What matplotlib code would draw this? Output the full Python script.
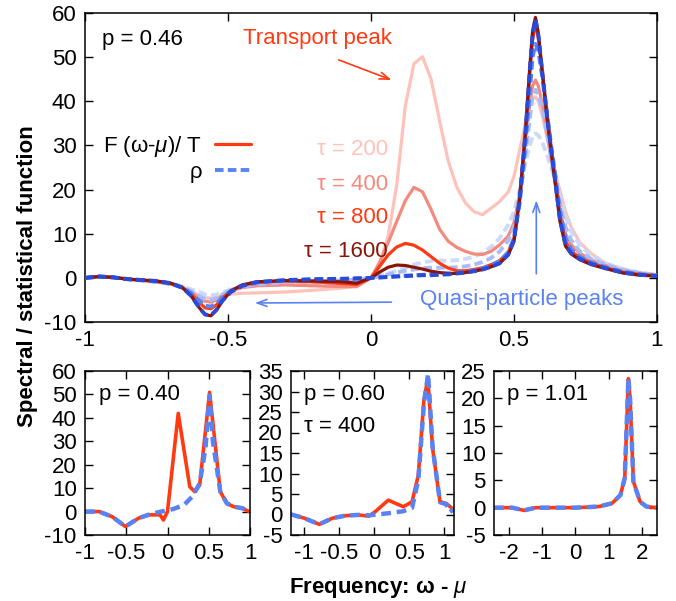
import matplotlib
matplotlib.use("Agg")
import matplotlib.pyplot as plt
from matplotlib.ticker import FuncFormatter

plt.rcParams['font.family'] = ['Liberation Sans', 'DejaVu Sans']
plt.rcParams['axes.unicode_minus'] = False
plt.rcParams['mathtext.fontset'] = 'custom'
plt.rcParams['mathtext.rm'] = 'Liberation Sans'
plt.rcParams['mathtext.it'] = 'Liberation Sans:italic'
plt.rcParams['mathtext.bf'] = 'Liberation Sans:bold'

# ---------------- data: main panel (p = 0.46) ----------------
X_MAIN = [-1.0, -0.95, -0.9, -0.85, -0.8, -0.75, -0.7, -0.66, -0.63, -0.6, -0.58, -0.56,
          -0.54, -0.52, -0.49, -0.45, -0.4, -0.3, -0.2, -0.1, -0.05, 0.0,
          0.03, 0.06, 0.09, 0.12, 0.15, 0.18, 0.21, 0.24, 0.27, 0.30,
          0.33, 0.36, 0.39, 0.42, 0.45, 0.48, 0.50, 0.52, 0.54,
          0.555, 0.565, 0.575, 0.585, 0.60, 0.615, 0.63, 0.645, 0.66,
          0.68, 0.70, 0.73, 0.77, 0.82, 0.88, 0.94, 1.0]

F_200 = [0, 0.3, 0.1, -0.3, -0.6, -0.9, -1.3, -2.0, -3.0, -4.0, -4.5, -4.6, -4.4, -4.0, -3.7, -3.5,
         -3.4, -3.2, -2.8, -2.3, -1.8, 0.0,
         3.0, 9.5, 21, 39, 48.5, 50.1, 45, 35.5, 26.5, 20.5, 17, 15, 14.3, 15.8, 17.3, 19.5, 23, 29, 35,
         39, 40.8, 41, 40, 36.5, 32, 27.5, 23.5, 20, 15, 11.5, 8, 5.5, 3.3, 2.0, 1.2, 0.7]
F_400 = [0, 0.3, 0.1, -0.3, -0.6, -0.9, -1.4, -2.2, -3.2, -4.6, -5.3, -5.5, -5.0, -4.0, -3.0, -2.2,
         -1.8, -1.6, -1.8, -2.0, -2.0, 0.0,
         3.5, 8.0, 12.8, 17.5, 20.5, 19.5, 15.5, 11.0, 8.3, 6.9, 6.0, 5.4, 5.3, 6.0, 7.5, 9.5, 12.5, 19, 31,
         39.5, 43.5, 44.8, 43.5, 39, 33, 27, 21, 15.5, 10, 7.5, 5.6, 4.0, 2.8, 1.6, 1.0, 0.6]
F_800 = [0, 0.3, 0.1, -0.3, -0.5, -0.8, -1.3, -2.2, -3.6, -5.6, -6.8, -7.0, -6.1, -4.6, -2.9, -1.7,
         -1.0, -0.7, -0.9, -1.3, -1.5, 0.0,
         2.6, 5.2, 7.0, 7.8, 7.4, 6.3, 4.8, 3.3, 2.2, 1.6, 1.6, 1.9, 2.3, 3.0, 3.9, 5.8, 9.0, 18, 33,
         46, 54, 57.5, 54.5, 46, 37.5, 29.5, 22, 14.5, 8.3, 6.0, 4.6, 3.4, 2.3, 1.3, 0.8, 0.5]
F_1600 = [0, 0.3, 0.1, -0.3, -0.5, -0.7, -1.2, -2.2, -4.0, -6.8, -8.3, -8.6, -7.3, -5.3, -3.0, -1.6,
          -0.9, -0.6, -0.7, -0.9, -1.2, 0.0,
          1.3, 2.4, 2.9, 2.8, 2.4, 2.0, 1.5, 1.2, 1.0, 1.0, 1.2, 1.5, 1.9, 2.5, 3.3, 5.2, 8.3, 18, 33,
          47.5, 56, 59, 55.5, 46, 36.5, 28.5, 21, 13, 7.2, 5.4, 4.1, 3.0, 2.1, 1.1, 0.6, 0.4]
RHO_200 = [0, 0.3, 0.1, -0.3, -0.6, -0.9, -1.3, -1.9, -2.6, -3.2, -3.8, -4.0, -3.8, -3.3, -2.6, -2.0,
           -1.7, -1.5, -1.4, -1.2, -0.8, 0.0,
           0.5, 1.0, 1.6, 2.3, 3.0, 3.5, 3.8, 3.9, 3.9, 4.0, 4.3, 4.8, 5.6, 7.0, 9.0, 12, 15, 20, 26,
           30, 32, 32.7, 32.3, 30.5, 28, 25, 22, 18.5, 14, 10.5, 7.5, 5.0, 3.3, 2.0, 1.2, 0.7]
RHO_400 = [0, 0.3, 0.1, -0.3, -0.6, -0.9, -1.4, -2.2, -3.0, -4.2, -4.8, -5.0, -4.6, -3.8, -2.8, -2.0,
           -1.5, -1.0, -0.8, -0.6, -0.4, 0.0,
           0.4, 0.8, 1.2, 1.6, 1.9, 2.2, 2.3, 2.3, 2.3, 2.4, 2.6, 3.0, 3.6, 4.5, 6.0, 8.5, 11.5, 18, 28,
           36, 41, 42.6, 41.5, 38, 33, 27.5, 22, 17, 11.5, 8.5, 6, 4.3, 3.0, 1.8, 1.1, 0.6]
RHO_800 = [0, 0.3, 0.1, -0.3, -0.5, -0.8, -1.3, -2.2, -3.4, -5.2, -6.3, -6.5, -5.8, -4.5, -2.9, -1.7,
           -1.0, -0.6, -0.4, -0.3, -0.2, 0.0,
           0.1, 0.2, 0.4, 0.5, 0.6, 0.7, 0.8, 0.9, 1.0, 1.1, 1.3, 1.6, 2.1, 2.8, 3.8, 5.8, 9.0, 17, 30,
           42, 50, 53, 51.5, 45, 37.5, 30, 23, 15.5, 9.0, 6.5, 4.8, 3.5, 2.4, 1.4, 0.8, 0.5]
RHO_1600 = [0, 0.3, 0.1, -0.3, -0.5, -0.7, -1.2, -2.2, -4.0, -6.8, -8.3, -8.5, -7.2, -5.2, -3.2, -1.8,
            -1.0, -0.5, -0.3, -0.2, -0.1, 0.0,
            0.1, 0.2, 0.3, 0.4, 0.5, 0.6, 0.6, 0.7, 0.8, 1.0, 1.2, 1.5, 1.9, 2.5, 3.3, 5.3, 8.5, 18, 33,
            47, 55, 58.5, 55, 46, 37, 29, 21.5, 13.5, 7.5, 5.6, 4.3, 3.2, 2.2, 1.2, 0.7, 0.4]

TAUS = [200, 400, 800, 1600]
TAU_LABEL_Y = [29.1, 21.2, 13.6, 6.0]

# ---------------- data: small panels ----------------
P1_X = [-1.0, -0.83, -0.67, -0.51, -0.35, -0.22, -0.09, -0.05, 0.0, 0.13, 0.27, 0.33, 0.39, 0.51,
        0.64, 0.72, 0.80, 0.91, 0.97, 1.0]
P1_F = [0, 0, -2.2, -6.4, -2.8, -1.4, -1.4, -3.6, 0, 41.9, 10.6, 8.5, 11.3, 50.9, 8.5, 3.5, 2.1, 1.4,
        0.3, 0]
P1_RHO_X = [-1.0, -0.83, -0.67, -0.51, -0.35, -0.2, -0.05, 0.07, 0.2, 0.3, 0.39, 0.46, 0.51, 0.55,
            0.64, 0.72, 0.80, 0.91, 0.97, 1.0]
P1_RHO = [0, 0, -2.2, -6.4, -2.8, -1.0, 0.2, 1.1, 2.8, 6.4, 12, 27, 49.5, 30, 8.5, 3.5, 2.1, 1.4, 0.3, 0]

P2_X = [-1.185, -1.0, -0.785, -0.6, -0.415, -0.23, -0.077, 0.015, 0.2, 0.415, 0.54, 0.63, 0.71, 0.766,
        0.834, 0.94, 1.03, 1.14]
P2_F = [0, -0.9, -2.4, -0.9, -0.3, -0.1, -0.4, 0.7, 3.5, 1.9, 3.1, 9.6, 27.9, 33.2, 16.1, 3.1, 2.7, 1.1]
P2_RHO_X = [-1.185, -1.0, -0.785, -0.6, -0.415, -0.23, -0.077, 0.2, 0.415, 0.54, 0.63, 0.71, 0.77,
            0.834, 0.94, 1.03, 1.08, 1.14]
P2_RHO = [0, -0.9, -2.4, -0.9, -0.3, -0.1, -0.2, 0.3, 0.8, 1.6, 8.5, 27, 34.3, 16.5, 3.0, 2.5, 0.6, 1.3]

P3_X = [-2.45, -1.9, -1.55, -1.2, 0.0, 0.7, 1.1, 1.35, 1.48, 1.59, 1.64, 1.74, 1.94, 2.13, 2.45]
P3_F = [0, 0, -0.5, 0, 0, 0.2, 0.8, 2.3, 5.4, 23.6, 20, 4.8, 1.1, 0.2, 0]
P3_RHO = [0, 0, -0.5, 0, 0, 0.2, 0.8, 2.3, 5.4, 23.6, 20, 4.8, 1.1, 0.2, 0]

# ---------------- styling ----------------
F_COLORS = ['#ffc2ba', '#f48a7e', '#ff3a12', '#8b1408']
RHO_COLORS = ['#cbd9fb', '#a8bdf7', '#5b82f2', '#2a4ad8']
RED = '#ff3a12'
BLUE = '#5b82f2'
FS = 16

fmt = FuncFormatter(lambda v, p: f'{v:g}')


def style_axis(ax, xticks, yticks, xlim, ylim):
    ax.set_xlim(*xlim)
    ax.set_ylim(*ylim)
    ax.set_xticks(xticks)
    ax.set_yticks(yticks)
    ax.xaxis.set_major_formatter(fmt)
    ax.yaxis.set_major_formatter(fmt)
    ax.tick_params(direction='in', length=6, width=1, top=True, right=True,
                   labelsize=FS, pad=6)
    for s in ax.spines.values():
        s.set_linewidth(1.1)


fig = plt.figure(figsize=(6.76, 6.01), dpi=100)
W, H = 676, 601


def add_ax(x0, y0, x1, y1):
    return fig.add_axes([x0 / W, 1 - y1 / H, (x1 - x0) / W, (y1 - y0) / H])


ax = add_ax(85, 13, 657, 322)
F_DATA = [F_200, F_400, F_800, F_1600]
RHO_DATA = [RHO_200, RHO_400, RHO_800, RHO_1600]
handles = {}
for i, tau in enumerate(TAUS):
    lf, = ax.plot(X_MAIN, F_DATA[i], color=F_COLORS[i], lw=2.3, solid_capstyle='round', zorder=2 + i)
    lr, = ax.plot(X_MAIN, RHO_DATA[i], color=RHO_COLORS[i], lw=2.8, dashes=(2.2, 1.1), zorder=2.5 + i)
    if tau == 800:
        handles['F'] = lf
        handles['rho'] = lr
    ax.text(0.059, TAU_LABEL_Y[i], f'τ = {tau}', color=F_COLORS[i], fontsize=FS,
            ha='right', va='center')

style_axis(ax, [-1, -0.5, 0, 0.5, 1], list(range(-10, 61, 10)), (-1, 1), (-10, 60))
ax.text(-0.94, 54.1, 'p = 0.46', fontsize=FS, ha='left', va='center')
ax.text(-0.187, 54.2, 'Transport peak', fontsize=FS, color=RED, ha='center', va='center')
ax.annotate('', xy=(0.081, 44.6), xytext=(-0.122, 49.6),
            arrowprops=dict(arrowstyle='->,head_length=0.7,head_width=0.25', color=RED, lw=1.2))
ax.text(0.526, -5.0, 'Quasi-particle peaks', fontsize=FS, color=BLUE, ha='center', va='center')
ax.annotate('', xy=(-0.416, -5.7), xytext=(0.081, -5.5),
            arrowprops=dict(arrowstyle='->,head_length=0.7,head_width=0.25', color=BLUE, lw=1.2))
ax.annotate('', xy=(0.578, 18.2), xytext=(0.578, 0.3),
            arrowprops=dict(arrowstyle='->,head_length=0.7,head_width=0.25', color=BLUE, lw=1.2))

leg = ax.legend([handles['F'], handles['rho']], [r'F (ω-$\mu$)/ T', 'ρ'],
                loc='center right', bbox_to_anchor=(0.29, 0.529), frameon=False,
                markerfirst=False, borderpad=0, borderaxespad=0, handlelength=1.6,
                handletextpad=0.6, labelspacing=0.15, fontsize=FS)

# small panels
ax1 = add_ax(85, 371, 250, 535)
ax1.plot(P1_X, P1_F, color=RED, lw=2.6)
ax1.plot(P1_RHO_X, P1_RHO, color=BLUE, lw=3.2, dashes=(2.2, 1.3))
style_axis(ax1, [-1, -0.5, 0, 0.5, 1], list(range(-10, 61, 10)), (-1, 1), (-10, 60))
ax1.text(0.087, 0.858, 'p = 0.40', transform=ax1.transAxes, fontsize=FS, ha='left', va='center')

ax2 = add_ax(291, 371, 454, 535)
ax2.plot(P2_X, P2_F, color=RED, lw=2.6)
ax2.plot(P2_RHO_X, P2_RHO, color=BLUE, lw=3.2, dashes=(2.2, 1.3))
style_axis(ax2, [-1, -0.5, 0, 0.5, 1], list(range(-5, 36, 5)), (-1.19, 1.14), (-5, 35))
ax2.text(0.08, 0.858, 'p = 0.60', transform=ax2.transAxes, fontsize=FS, ha='left', va='center')
ax2.text(0.08, 0.66, 'τ = 400', transform=ax2.transAxes, fontsize=FS, ha='left', va='center')

ax3 = add_ax(494, 371, 657, 535)
ax3.plot(P3_X, P3_F, color=RED, lw=2.6)
ax3.plot(P3_X, P3_RHO, color=BLUE, lw=3.2, dashes=(2.2, 1.3))
style_axis(ax3, [-2, -1, 0, 1, 2], list(range(-5, 26, 5)), (-2.45, 2.45), (-5, 25))
ax3.text(0.079, 0.858, 'p = 1.01', transform=ax3.transAxes, fontsize=FS, ha='left', va='center')

fig.text(0.041, 0.541, 'Spectral / statistical function', rotation=90, fontsize=FS,
         fontweight='bold', ha='center', va='center')
fig.text(0.559, 0.022, r'Frequency: ω - $\mu$', fontsize=FS, fontweight='bold',
         ha='center', va='center')

fig.savefig('out.png', dpi=100)
